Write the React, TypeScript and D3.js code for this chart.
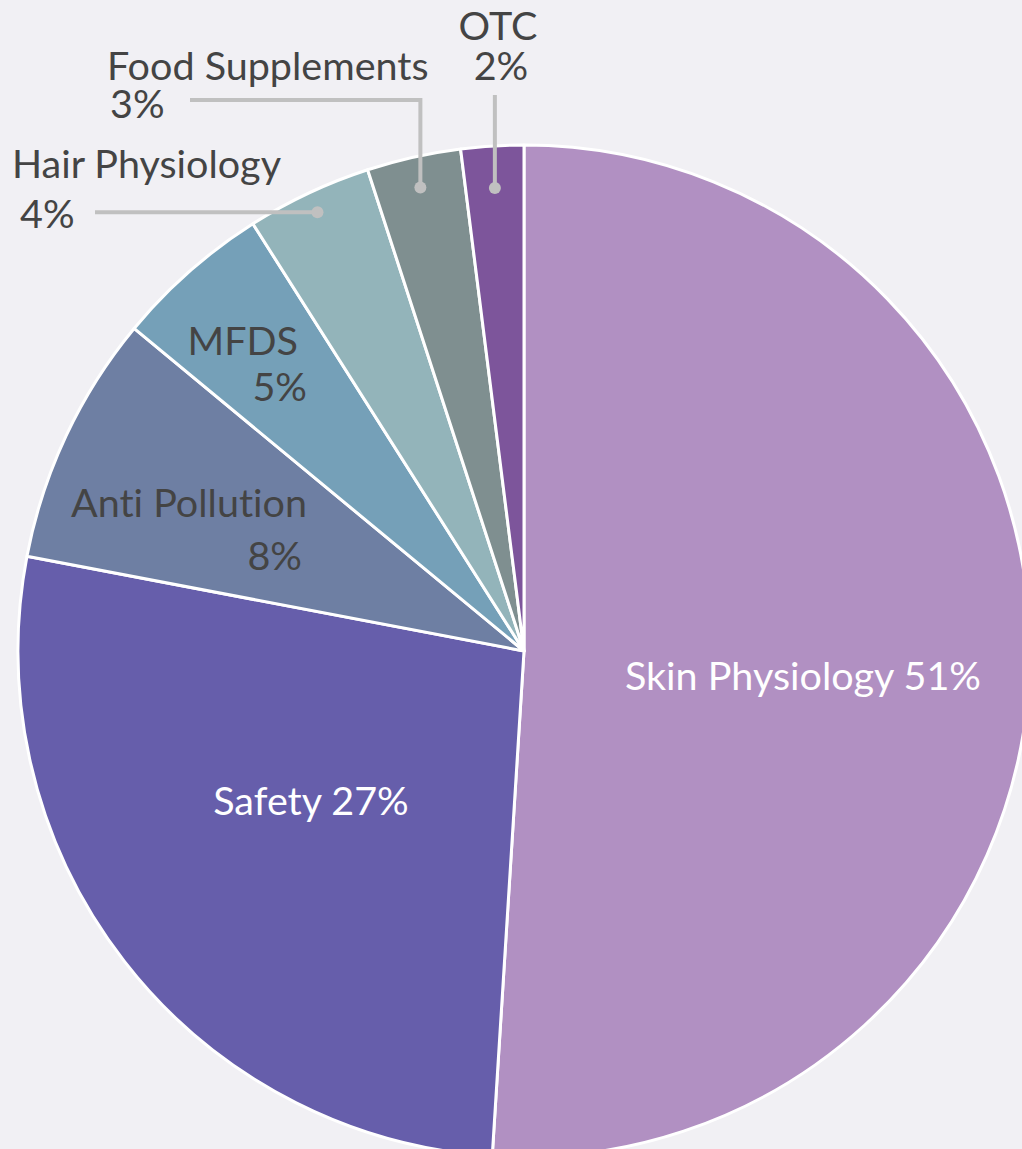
import React from "react";
import * as d3 from "d3";

const categories = [
  "Skin Physiology",
  "Safety",
  "Anti Pollution",
  "MFDS",
  "Hair Physiology",
  "Food Supplements",
  "OTC",
];
const values = [51, 27, 8, 5, 4, 3, 2];
const colors = ["#b190c2", "#665eab", "#6e7fa3", "#75a0b8", "#93b4ba", "#7f8f90", "#7d559b"];

const W = 1022;
const H = 1149;
const CX = 524;
const CY = 651;
const R = 506;
const FONT = "Lato, 'Source Sans Pro', 'Noto Sans', sans-serif";
const FS = 39.5;
const DARK = "#444444";
const LEADER = "#c0c0c0";

export default function App() {
  const data = categories.map((c, i) => ({ name: c, value: values[i], color: colors[i] }));
  const pie = d3.pie<any>().sort(null).value((d: any) => d.value);
  const arcs = pie(data);
  const arc = d3.arc<any>().innerRadius(0).outerRadius(R);

  const pointAt = (a: any, r: number) => {
    const mid = (a.startAngle + a.endAngle) / 2;
    return [CX + r * Math.sin(mid), CY - r * Math.cos(mid)];
  };

  const hair = arcs[4];
  const food = arcs[5];
  const otc = arcs[6];
  const [hx, hy] = pointAt(hair, 485);
  const [fx, fy] = pointAt(food, 475);
  const [ox, oy] = pointAt(otc, 464);

  const textStyle = { fontVariantLigatures: "none" as const };

  return (
    <svg
      width={W}
      height={H}
      style={{ position: "absolute", left: 0, top: 0, display: "block" }}
      fontFamily={FONT}
    >
      <rect x={0} y={0} width={W} height={H} fill="#f1f0f4" />
      <g transform={`translate(${CX},${CY})`}>
        {arcs.map((a, i) => (
          <path key={i} d={arc(a) as string} fill={a.data.color} stroke="#ffffff" strokeWidth={3} strokeLinejoin="round" />
        ))}
      </g>

      <g style={textStyle} fontSize={FS}>
        {/* inside labels */}
        <text x={803} y={690} fill="#ffffff" textAnchor="middle">
          {`${categories[0]} ${values[0]}%`}
        </text>
        <text x={311} y={815} fill="#ffffff" textAnchor="middle">
          {`${categories[1]} ${values[1]}%`}
        </text>
        <text x={307} y={517} fill={DARK} textAnchor="end">
          {categories[2]}
        </text>
        <text x={302} y={570} fill={DARK} textAnchor="end">
          {`${values[2]}%`}
        </text>
        <text x={298} y={355} fill={DARK} textAnchor="end">
          {categories[3]}
        </text>
        <text x={307} y={401} fill={DARK} textAnchor="end">
          {`${values[3]}%`}
        </text>
      </g>

      {/* leader lines */}
      <g stroke={LEADER} strokeWidth={4} fill="none">
        <polyline points={`${hx},${hy} 95,${hy}`} />
        <polyline points={`${fx},${fy} ${fx},100 190,100`} />
        <polyline points={`${ox},${oy} ${ox},95`} />
      </g>
      <g fill={LEADER}>
        <circle cx={hx} cy={hy} r={6} />
        <circle cx={fx} cy={fy} r={6} />
        <circle cx={ox} cy={oy} r={6} />
      </g>

      {/* outside labels */}
      <g style={textStyle} fontSize={FS} fill={DARK}>
        <text x={12} y={178}>
          {categories[4]}
        </text>
        <text x={20} y={228}>
          {`${values[4]}%`}
        </text>
        <text x={107} y={80}>
          {categories[5]}
        </text>
        <text x={110} y={118}>
          {`${values[5]}%`}
        </text>
        <text x={498} y={40} textAnchor="middle">
          {categories[6]}
        </text>
        <text x={501} y={80} textAnchor="middle">
          {`${values[6]}%`}
        </text>
      </g>
    </svg>
  );
}
